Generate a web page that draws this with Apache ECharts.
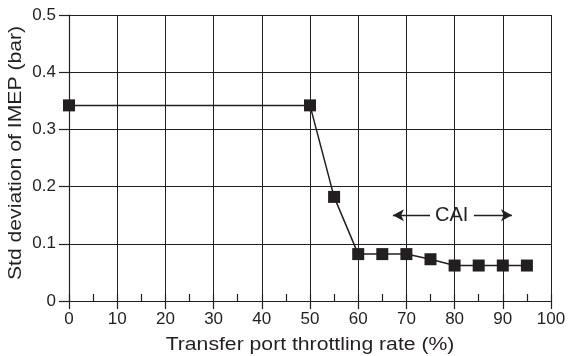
<!DOCTYPE html>
<html>
<head>
<meta charset="utf-8">
<script src="https://cdn.jsdelivr.net/npm/echarts@6/dist/echarts.min.js"></script>
<style>
  html, body { margin: 0; padding: 0; background: #fff; }
  #chart { width: 571px; height: 356px; }
</style>
</head>
<body>
<div id="chart"></div>
<script>
// Throttling rate (%) and the standard deviation of IMEP (bar)
const throttlingRate = [0, 50, 55, 60, 65, 70, 75, 80, 85, 90, 95];
const stdIMEP = [0.342, 0.342, 0.182, 0.082, 0.082, 0.082, 0.073, 0.062, 0.062, 0.062, 0.062];

// CAI region annotation (arrow extents in axis units)
const caiLabel = 'CAI';
const caiLevel = 0.150;
const caiTextX = 79.4;
const caiLeftArrow = [74.9, 67.2];
const caiRightArrow = [84.0, 91.9];

const xTitle = 'Transfer port throttling rate (%)';
const yTitle = 'Std deviation of IMEP (bar)';

const font = 'Liberation Sans, Arial, Helvetica, sans-serif';
const ink = '#231f20';

const chart = echarts.init(document.getElementById('chart'));

const gridBox = { left: 69, right: 20, top: 15, bottom: 55 };

chart.setOption({
  animation: false,
  grid: gridBox,
  xAxis: [
    {
      type: 'value', min: 0, max: 100, interval: 10,
      axisLine: { show: true, lineStyle: { color: ink, width: 1.2 } },
      axisTick: { show: true, length: 8, lineStyle: { color: ink, width: 1.2 } },
      axisLabel: { fontFamily: font, fontSize: 17, color: ink, margin: 10 },
      splitLine: { show: true, lineStyle: { color: ink, width: 1 } }
    },
    {
      // inward minor ticks at every 5 %
      type: 'value', min: 0, max: 100, interval: 5, position: 'bottom',
      axisLine: { show: false },
      axisTick: { show: true, inside: true, length: 7, lineStyle: { color: ink, width: 1.2 } },
      axisLabel: { show: false },
      splitLine: { show: false }
    }
  ],
  yAxis: {
    type: 'value', min: 0, max: 0.5, interval: 0.1,
    axisLine: { show: true, lineStyle: { color: ink, width: 1.2 } },
    axisTick: { show: true, length: 10, lineStyle: { color: ink, width: 1.2 } },
    axisLabel: {
      fontFamily: font, fontSize: 17, color: ink, margin: 13,
      formatter: v => (v === 0 ? '0' : v.toFixed(1))
    },
    splitLine: { show: true, lineStyle: { color: ink, width: 1 } }
  },
  // axis titles, set in a slightly widened face
  graphic: [
    {
      type: 'text', x: 310, y: 345, scaleX: 1.21, silent: true,
      style: { text: xTitle, fontFamily: font, fontSize: 17.5, fill: ink, textAlign: 'center', textVerticalAlign: 'middle' }
    },
    {
      type: 'text', x: 16, y: 153, rotation: Math.PI / 2, scaleX: 1.21, silent: true,
      style: { text: yTitle, fontFamily: font, fontSize: 17.5, fill: ink, textAlign: 'center', textVerticalAlign: 'middle' }
    }
  ],
  series: [
    {
      type: 'line',
      data: throttlingRate.map((x, i) => [x, stdIMEP[i]]),
      symbol: 'rect', symbolSize: 12,
      lineStyle: { color: ink, width: 1.5 },
      itemStyle: { color: ink },
      z: 5
    },
    {
      type: 'line', data: [], silent: true,
      markLine: {
        silent: true,
        symbol: ['none', 'arrow'], symbolSize: [9, 11],
        label: { show: false },
        lineStyle: { color: ink, width: 1.3, type: 'solid' },
        data: [
          [{ coord: [caiLeftArrow[0], caiLevel] }, { coord: [caiLeftArrow[1], caiLevel] }],
          [{ coord: [caiRightArrow[0], caiLevel] }, { coord: [caiRightArrow[1], caiLevel] }]
        ]
      },
      markPoint: {
        silent: true,
        symbol: 'rect', symbolSize: 1,
        itemStyle: { color: 'rgba(0,0,0,0)' },
        label: { show: true, position: 'inside', formatter: caiLabel, fontFamily: font, fontSize: 20, color: ink },
        data: [{ coord: [caiTextX, caiLevel] }]
      }
    }
  ]
});
</script>
</body>
</html>
